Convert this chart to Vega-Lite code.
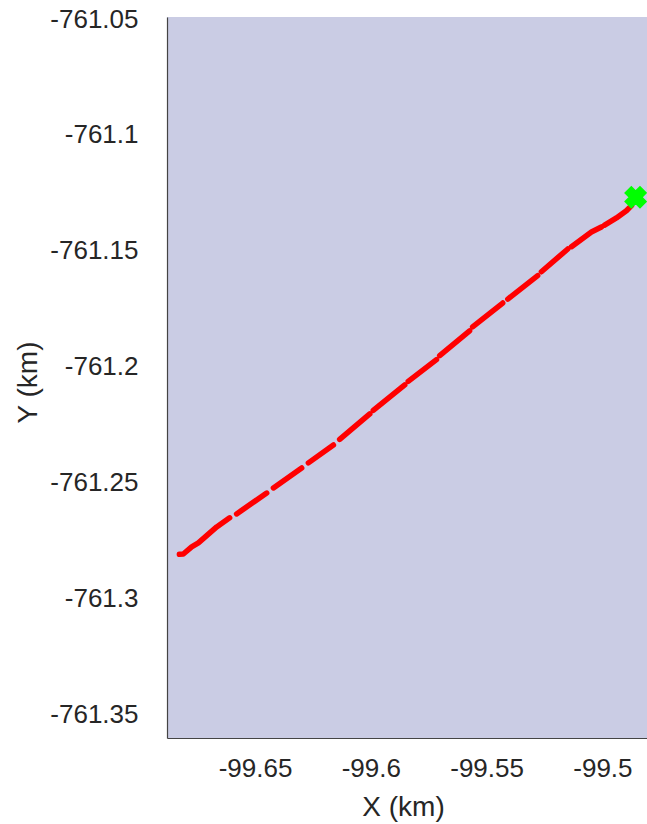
{
  "$schema": "https://vega.github.io/schema/vega-lite/v6.json",
  "autosize": {"type": "none"},
  "padding": {"left": 167, "top": 17, "right": 0, "bottom": 86},
  "width": 480,
  "height": 721,
  "background": "white",
  "config": {
    "view": {"fill": "#cacce4", "stroke": null},
    "font": "Liberation Sans"
  },
  "datasets": {
    "track": [
      {"seg": 1, "i": 1, "x": -99.6861, "y": -761.2816},
      {"seg": 1, "i": 2, "x": -99.6844, "y": -761.2815},
      {"seg": 1, "i": 3, "x": -99.6808, "y": -761.2784},
      {"seg": 1, "i": 4, "x": -99.6779, "y": -761.2767},
      {"seg": 1, "i": 5, "x": -99.6700, "y": -761.2698},
      {"seg": 1, "i": 6, "x": -99.6644, "y": -761.2659},
      {"seg": 2, "i": 7, "x": -99.6614, "y": -761.2642},
      {"seg": 2, "i": 8, "x": -99.6484, "y": -761.2552},
      {"seg": 3, "i": 9, "x": -99.6455, "y": -761.2530},
      {"seg": 3, "i": 10, "x": -99.6333, "y": -761.2444},
      {"seg": 4, "i": 11, "x": -99.6304, "y": -761.2422},
      {"seg": 4, "i": 12, "x": -99.6196, "y": -761.2345},
      {"seg": 5, "i": 13, "x": -99.6169, "y": -761.2321},
      {"seg": 5, "i": 14, "x": -99.6039, "y": -761.2211},
      {"seg": 6, "i": 15, "x": -99.6024, "y": -761.2196},
      {"seg": 6, "i": 16, "x": -99.5888, "y": -761.2086},
      {"seg": 7, "i": 17, "x": -99.5873, "y": -761.2071},
      {"seg": 7, "i": 18, "x": -99.5751, "y": -761.1977},
      {"seg": 8, "i": 19, "x": -99.5737, "y": -761.1960},
      {"seg": 8, "i": 20, "x": -99.5608, "y": -761.1853},
      {"seg": 9, "i": 21, "x": -99.5595, "y": -761.1836},
      {"seg": 9, "i": 22, "x": -99.5465, "y": -761.1733},
      {"seg": 10, "i": 23, "x": -99.5443, "y": -761.1716},
      {"seg": 10, "i": 24, "x": -99.5314, "y": -761.1615},
      {"seg": 11, "i": 25, "x": -99.5298, "y": -761.1598},
      {"seg": 11, "i": 26, "x": -99.5184, "y": -761.1500},
      {"seg": 12, "i": 27, "x": -99.5168, "y": -761.1490},
      {"seg": 12, "i": 28, "x": -99.5082, "y": -761.1427},
      {"seg": 12, "i": 29, "x": -99.5039, "y": -761.1405},
      {"seg": 13, "i": 30, "x": -99.5025, "y": -761.1397},
      {"seg": 13, "i": 31, "x": -99.4974, "y": -761.1366},
      {"seg": 13, "i": 32, "x": -99.4931, "y": -761.1335},
      {"seg": 13, "i": 33, "x": -99.4909, "y": -761.1313}
    ],
    "marker": [
      {"x": -99.4891, "y": -761.1277}
    ]
  },
  "layer": [
    {
      "data": {"name": "track"},
      "mark": {"type": "line", "color": "#ff0000", "strokeWidth": 5.5, "strokeCap": "round", "strokeJoin": "round", "clip": true},
      "encoding": {
        "x": {
          "field": "x", "type": "quantitative",
          "scale": {"domain": [-99.69145, -99.4842], "nice": false, "zero": false},
          "axis": {
            "title": "X (km)",
            "values": [-99.65, -99.6, -99.55, -99.5],
            "format": "~g",
            "labelExpr": "replace(datum.label, '\u2212', '-')",
            "grid": false,
            "domainColor": "#444444",
            "domainWidth": 1.2,
            "tickColor": "#444444",
            "tickSize": 0,
            "labelPadding": 17,
            "labelOffset": -8,
            "labelFontSize": 26,
            "labelColor": "#262626",
            "labelFont": "Liberation Sans",
            "labelFlush": false,
            "titleFontSize": 28,
            "titleFontWeight": "normal",
            "titleColor": "#262626",
            "titleFont": "Liberation Sans",
            "titleX": 236,
            "titleY": 69,
            "titleBaseline": "middle",
            "titleAlign": "center"
          }
        },
        "y": {
          "field": "y", "type": "quantitative",
          "scale": {"domain": [-761.3608, -761.05], "nice": false, "zero": false},
          "axis": {
            "title": "Y (km)",
            "values": [-761.35, -761.3, -761.25, -761.2, -761.15, -761.1, -761.05],
            "format": "~g",
            "labelExpr": "replace(datum.label, '\u2212', '-')",
            "grid": false,
            "domainColor": "#444444",
            "domainWidth": 1.2,
            "tickColor": "#444444",
            "tickSize": 0,
            "labelPadding": 29,
            "labelOffset": 2,
            "labelFontSize": 26,
            "labelColor": "#262626",
            "labelFont": "Liberation Sans",
            "labelFlush": false,
            "titleFontSize": 28,
            "titleFontWeight": "normal",
            "titleColor": "#262626",
            "titleFont": "Liberation Sans",
            "titleAngle": -90,
            "titleX": -139,
            "titleY": 365,
            "titleBaseline": "middle",
            "titleAlign": "center"
          }
        },
        "detail": {"field": "seg", "type": "nominal"},
        "order": {"field": "i", "type": "quantitative"}
      }
    },
    {
      "data": {"name": "marker"},
      "mark": {"type": "point", "shape": "cross", "angle": 45, "filled": true, "color": "#00ff00", "size": 420, "stroke": "#00ff00", "strokeWidth": 2, "opacity": 1, "clip": false},
      "encoding": {
        "x": {"field": "x", "type": "quantitative"},
        "y": {"field": "y", "type": "quantitative"}
      }
    }
  ]
}
